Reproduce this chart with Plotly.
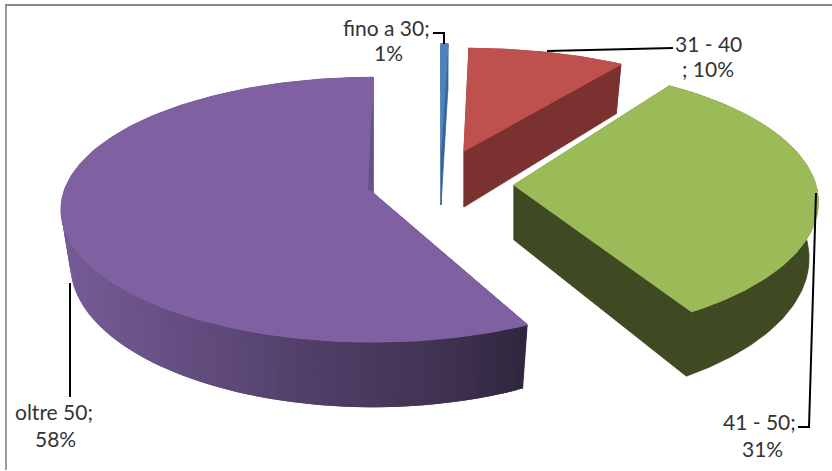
import math
import plotly.graph_objects as go

# Age bands and their share of the total
categories = ["fino a 30", "31 - 40", "41 - 50", "oltre 50"]
shares = [1, 10, 31, 58]
label_lines = [["fino a 30;", "1%"], ["31 - 40", "; 10%"], ["41 - 50;", "31%"], ["oltre 50;", "58%"]]

# Look of each slice
top_colors = ["#4F81BD", "#BE504D", "#9BBB59", "#7F60A0"]
wall_colors = ["#35659C", "#7B3130", "#3F4A23", None]
apex_x = [441, 464, 514, 373]
apex_y = [150, 151, 185, 193]
scale_x = [0.92, 1.0, 0.975, 1.0]
scale_y = [0.90, 0.87, 1.0, 0.98]
depths = [55, 56, 55, 54]
# Foreshortening of the slice angles on the far and near halves of the pie
far_power = [1.3, 1.45, 1.4, 1.3]
near_power = [1.1, 1.1, 0.84, 1.15]

# Label placement and leader lines, in page pixels
label_x = [[386, 388], [708, 708], [759, 762], [54, 55]]
label_y = [[27, 52], [43, 68], [421, 448], [411, 438]]
leaders = [
    [(433, 33), (444, 33), (444, 44)],
    [(547, 51), (673, 48)],
    [(816, 193), (809, 427), (798, 427)],
    [(70, 283), (70, 397)],
]

# Pie projection
RADIUS_X = 309.5
RADIUS_Y = 132.9
PERSPECTIVE = 0.126
LOWER_X = 0.97
LOWER_Y = 1.075
PAGE_W, PAGE_H = 832, 471


def warp(angle, far, near):
    s, c = math.sin(angle), math.cos(angle)
    if abs(s) < 1e-9:
        return angle
    power = far if c > 0 else near
    return math.atan2(math.copysign(abs(s) ** power, s), c)


def rim(angle, far, near):
    a = warp(angle, far, near)
    x, y = math.sin(a), -math.cos(a)
    w = 1 / (1 - PERSPECTIVE * y)
    return RADIUS_X * x * w, RADIUS_Y * y * w


def mix(c1, c2, t):
    return "rgb(%d,%d,%d)" % tuple(round(a + (b - a) * t) for a, b in zip(c1, c2))


def purple_wall(px):
    # Wall shading of the big slice runs dark towards the right
    stops = [(61, (118, 92, 150)), (300, (82, 64, 106)), (450, (63, 50, 80)), (525, (48, 39, 62))]
    for (x0, c0), (x1, c1) in zip(stops, stops[1:]):
        if px <= x1:
            return mix(c0, c1, max(0, (px - x0) / (x1 - x0)))
    return mix(stops[-1][1], stops[-1][1], 0)


fig = go.Figure()


def poly(xs, ys, color, edge=0.8):
    fig.add_trace(go.Scatter(
        x=xs, y=ys, mode="lines", fill="toself", fillcolor=color,
        line=dict(color=color, width=edge), hoverinfo="skip", showlegend=False,
    ))


total = sum(shares)
start = 0.0
for i, share in enumerate(shares):
    end = start + share / total * 2 * math.pi
    steps = max(6, int(share * 3))
    angles = [start + (end - start) * k / steps for k in range(steps + 1)]
    ax, ay = apex_x[i], apex_y[i]
    rims = [rim(a, far_power[i], near_power[i]) for a in angles]
    pts = [(scale_x[i] * dx, scale_y[i] * dy) for dx, dy in rims]
    upper = [(ax + dx, ay + dy) for dx, dy in pts]
    lower = [(ax + LOWER_X * dx, ay + depths[i] + LOWER_Y * dy) for dx, dy in pts]
    low_apex = (ax, ay + depths[i])

    # Radial walls, then the curved outer wall, then the top face
    for j in (0, -1):
        color = wall_colors[i] or "#3a2e4c"
        poly([ax, upper[j][0], lower[j][0], low_apex[0], ax],
             [ay, upper[j][1], lower[j][1], low_apex[1], ay], color)
    if wall_colors[i]:
        ring = upper + lower[::-1] + upper[:1]
        poly([p[0] for p in ring], [p[1] for p in ring], wall_colors[i])
    else:
        # Overlapping strips keep the gradient free of seams
        for k in range(steps):
            n = min(k + 2, steps)
            ring = upper[k:n + 1] + lower[k:n + 1][::-1] + upper[k:k + 1]
            poly([p[0] for p in ring], [p[1] for p in ring],
                 purple_wall((upper[k][0] + upper[k + 1][0]) / 2), edge=0)
    poly([ax] + [p[0] for p in upper] + [ax], [ay] + [p[1] for p in upper] + [ay],
         top_colors[i], edge=1.2)

    # Narrow shaded strip along the closing edge of the big slice
    if wall_colors[i] is None:
        ex, ey = upper[-1]
        along = [0.02, 0.25, 0.6, 0.78]
        inset = [5, 4, 2, 0]
        right = [(ax + (ex - ax) * t, ay + (ey - ay) * t) for t in along]
        left = [(x - d, y) for (x, y), d in zip(right, inset)]
        poly([p[0] for p in right + left[::-1]] + [right[0][0]],
             [p[1] for p in right + left[::-1]] + [right[0][1]], "#67508A", edge=0)
    start = end

# Leader lines and value labels
for path in leaders:
    fig.add_trace(go.Scatter(
        x=[p[0] for p in path], y=[p[1] for p in path], mode="lines",
        line=dict(color="#000000", width=2), hoverinfo="skip", showlegend=False,
    ))

annotations = []
for lines, lxs, lys in zip(label_lines, label_x, label_y):
    for line, lx, ly in zip(lines, lxs, lys):
        annotations.append(dict(
            x=lx, y=ly, xref="x", yref="y", text=line, showarrow=False,
            font=dict(family="Lato", size=21, color="#333333"),
            xanchor="center", yanchor="middle",
        ))

# Chart frame: left and top edges
frame = [
    dict(type="line", x0=6, x1=6, y0=4, y1=470, line=dict(color="#9a9a9a", width=2)),
    dict(type="line", x0=5, x1=832, y0=5, y1=5, line=dict(color="#888888", width=2)),
]

fig.update_layout(
    width=PAGE_W, height=PAGE_H,
    margin=dict(l=0, r=0, t=0, b=0),
    paper_bgcolor="#ffffff", plot_bgcolor="#ffffff",
    xaxis=dict(range=[0, PAGE_W], visible=False, fixedrange=True),
    yaxis=dict(range=[PAGE_H, 0], visible=False, fixedrange=True),
    annotations=annotations, shapes=frame, showlegend=False,
)
fig.write_html("out.html", config={"displayModeBar": False})
